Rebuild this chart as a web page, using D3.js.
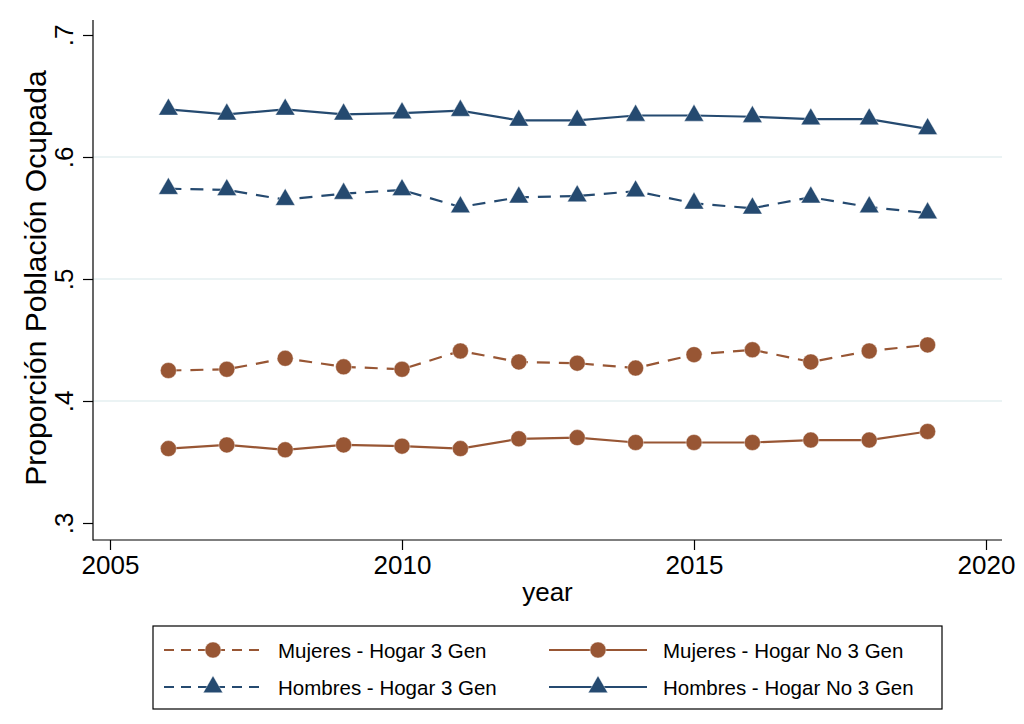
<!DOCTYPE html>
<html>
<head>
<meta charset="utf-8">
<script src="https://cdn.jsdelivr.net/npm/d3@7"></script>
<style>
  body { margin: 0; background: #fff; }
  text { font-family: "Liberation Sans", Arial, Helvetica, sans-serif; fill: #000; }
</style>
</head>
<body>
<svg id="chart" width="1024" height="724"></svg>
<script>
var years = [2006, 2007, 2008, 2009, 2010, 2011, 2012, 2013, 2014, 2015, 2016, 2017, 2018, 2019];
var mujeres3Gen   = [.425, .426, .435, .428, .426, .441, .432, .431, .427, .438, .442, .432, .441, .446];
var mujeresNo3Gen = [.361, .364, .360, .364, .363, .361, .369, .370, .366, .366, .366, .368, .368, .375];
var hombres3Gen   = [.574, .573, .565, .570, .573, .559, .567, .568, .572, .562, .558, .567, .559, .554];
var hombresNo3Gen = [.639, .635, .639, .635, .636, .638, .630, .630, .634, .634, .633, .631, .631, .623];
var xTicks = [2005, 2010, 2015, 2020];
var yTicks = [.3, .4, .5, .6, .7];
var seriesNames = ['Mujeres - Hogar 3 Gen', 'Mujeres - Hogar No 3 Gen', 'Hombres - Hogar 3 Gen', 'Hombres - Hogar No 3 Gen'];

var brown = '#985634', navy = '#254a70';

var series = [
  { name: seriesNames[0], values: mujeres3Gen,   color: brown, dashed: true,  marker: 'circle' },
  { name: seriesNames[1], values: mujeresNo3Gen, color: brown, dashed: false, marker: 'circle' },
  { name: seriesNames[2], values: hombres3Gen,   color: navy,  dashed: true,  marker: 'triangle' },
  { name: seriesNames[3], values: hombresNo3Gen, color: navy,  dashed: false, marker: 'triangle' }
];

var svg = d3.select('#chart');
var plot = { left: 93, right: 1002, top: 20, bottom: 540 };

var x = d3.scaleLinear().domain([2005, 2020]).range([110, 986]);
var y = d3.scaleLinear().domain([.3, .7]).range([523, 35]);

// grid lines (interior ticks only)
svg.append('g').selectAll('line')
  .data(yTicks.slice(1, -1))
  .enter().append('line')
  .attr('x1', plot.left).attr('x2', plot.right)
  .attr('y1', function(d) { return y(d); })
  .attr('y2', function(d) { return y(d); })
  .attr('stroke', '#e4eff1').attr('stroke-width', 1.5);

// axes
var fmt = function(d) { return d3.format('.1f')(d).replace(/^0/, ''); };

var yAxis = svg.append('g')
  .attr('transform', 'translate(' + plot.left + ',0)')
  .call(d3.axisLeft(y).tickValues(yTicks).tickFormat(fmt).tickSize(10).tickSizeOuter(0));
yAxis.select('.domain').remove();
yAxis.selectAll('text')
  .attr('x', null).attr('dy', null)
  .attr('transform', 'translate(-20,0) rotate(-90)')
  .attr('text-anchor', 'middle')
  .style('font-size', '26px');

var xAxis = svg.append('g')
  .attr('transform', 'translate(0,' + plot.bottom + ')')
  .call(d3.axisBottom(x).tickValues(xTicks).tickFormat(d3.format('d')).tickSize(10).tickSizeOuter(0));
xAxis.select('.domain').remove();
xAxis.selectAll('text')
  .attr('y', 34).attr('dy', null)
  .style('font-size', '26px');

svg.selectAll('.tick line').attr('stroke', '#000').attr('stroke-width', 1.2);
svg.selectAll('.tick text').style('font-family', '"Liberation Sans", Arial, sans-serif');

svg.append('line')
  .attr('x1', plot.left).attr('x2', plot.left)
  .attr('y1', plot.top).attr('y2', plot.bottom + 0.6)
  .attr('stroke', '#000').attr('stroke-width', 1.2);
svg.append('line')
  .attr('x1', plot.left).attr('x2', plot.right)
  .attr('y1', plot.bottom).attr('y2', plot.bottom)
  .attr('stroke', '#000').attr('stroke-width', 1.2);

// axis titles
svg.append('text')
  .attr('transform', 'translate(46,' + ((plot.top + plot.bottom) / 2 - 2) + ') rotate(-90)')
  .attr('text-anchor', 'middle')
  .style('font-size', '30px')
  .text('Proporción Población Ocupada');

svg.append('text')
  .attr('x', (plot.left + plot.right) / 2).attr('y', 601)
  .attr('text-anchor', 'middle')
  .style('font-size', '26px')
  .text('year');

// series
var line = d3.line()
  .x(function(d) { return x(d[0]); })
  .y(function(d) { return y(d[1]); });

var triangle = d3.symbol().type(d3.symbolTriangle).size(165);

function drawMarker(g, type, color) {
  if (type === 'circle') {
    g.append('circle').attr('r', 8).attr('fill', color)
      .attr('stroke', '#fff').attr('stroke-width', 0.4);
  } else {
    g.append('path').attr('d', triangle()).attr('fill', color)
      .attr('stroke', '#fff').attr('stroke-width', 0.4);
  }
}

series.forEach(function(s) {
  var pts = years.map(function(yr, i) { return [yr, s.values[i]]; });
  svg.append('path')
    .datum(pts)
    .attr('d', line)
    .attr('fill', 'none')
    .attr('stroke', s.color)
    .attr('stroke-width', 2.2)
    .attr('stroke-dasharray', s.dashed ? '13,9' : null);
  svg.append('g').selectAll('g')
    .data(pts)
    .enter().append('g')
    .attr('transform', function(d) { return 'translate(' + x(d[0]) + ',' + y(d[1]) + ')'; })
    .each(function() { drawMarker(d3.select(this), s.marker, s.color); });
});

// legend
var legend = svg.append('g');
legend.append('rect')
  .attr('x', 153).attr('y', 626).attr('width', 789).attr('height', 83)
  .attr('fill', '#fff').attr('stroke', '#000').attr('stroke-width', 1.2);

var cols = [164, 549], rows = [650, 687];
series.forEach(function(s, i) {
  var cx = cols[i % 2], cy = rows[Math.floor(i / 2)];
  var item = legend.append('g').attr('transform', 'translate(' + cx + ',' + cy + ')');
  item.append('line')
    .attr('x1', 0).attr('x2', 98).attr('y1', 0).attr('y2', 0)
    .attr('stroke', s.color).attr('stroke-width', 2)
    .attr('stroke-dasharray', s.dashed ? '10,7' : null);
  var m = item.append('g').attr('transform', 'translate(49,0)');
  drawMarker(m, s.marker, s.color);
  item.append('text')
    .attr('x', 114).attr('y', 7.5)
    .style('font-size', '20.5px')
    .text(s.name);
});
</script>
</body>
</html>
